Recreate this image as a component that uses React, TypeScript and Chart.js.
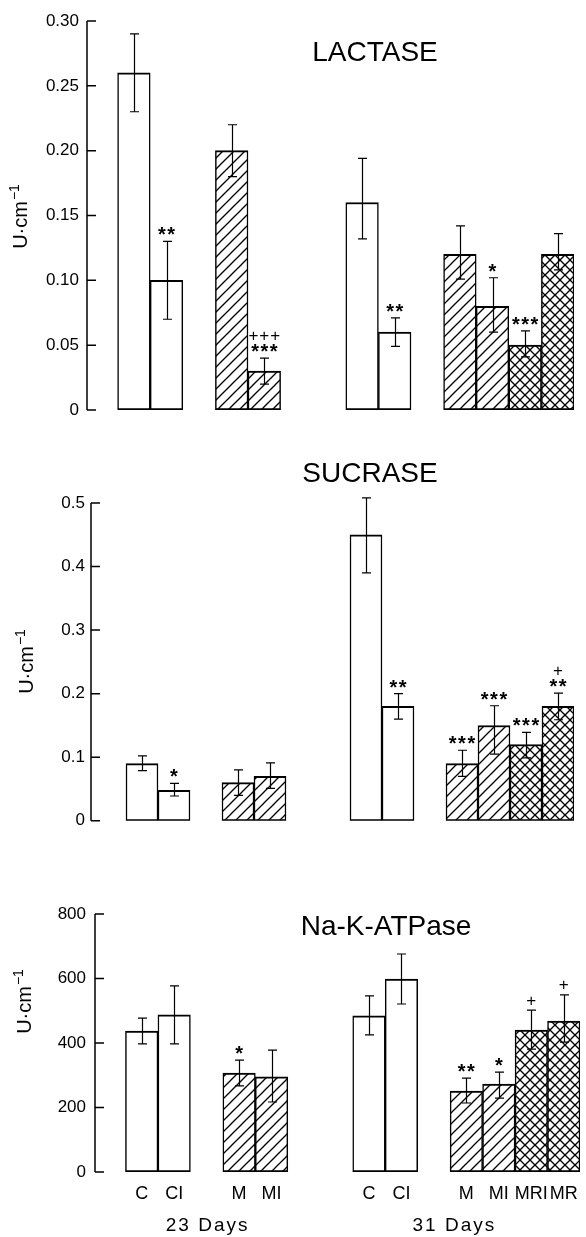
import React, { useEffect, useRef } from "react";
import { Chart, registerables } from "chart.js";
Chart.register(...registerables);

// ---------- data ----------
const categories = ["", "C", "CI", "", "M", "MI", "", "", "C", "CI", "", "M", "MI", "MRI", "MR"];
const fillKinds = ["none", "open", "open", "none", "hatch", "hatch", "none", "none", "open", "open", "none", "hatch", "hatch", "cross", "cross"];
const groupLabels = ["23 Days", "31 Days"];
const groupLabelAt = [3, 10.6];

const lactaseMeans = [null, 0.26, 0.10, null, 0.20, 0.03, null, null, 0.16, 0.06, null, 0.12, 0.08, 0.05, 0.12];
const lactaseUpper = [null, 0.29, 0.13, null, 0.22, 0.04, null, null, 0.194, 0.071, null, 0.142, 0.102, 0.061, 0.136];
const lactaseLower = [null, 0.23, 0.07, null, 0.18, 0.02, null, null, 0.132, 0.049, null, 0.101, 0.06, 0.041, 0.108];
const lactaseMarks = ["", "", "**", "", "", "+++\n***", "", "", "", "**", "", "", "*", "***", ""];
const lactaseTicks = [0, 0.05, 0.1, 0.15, 0.2, 0.25, 0.3];
const lactaseTickLabels = ["0", "0.05", "0.10", "0.15", "0.20", "0.25", "0.30"];

const sucraseMeans = [null, 0.09, 0.048, null, 0.06, 0.07, null, null, 0.45, 0.18, null, 0.09, 0.15, 0.12, 0.18];
const sucraseUpper = [null, 0.102, 0.059, null, 0.08, 0.091, null, null, 0.508, 0.20, null, 0.111, 0.181, 0.139, 0.201];
const sucraseLower = [null, 0.079, 0.039, null, 0.04, 0.051, null, null, 0.39, 0.16, null, 0.07, 0.105, 0.099, 0.159];
const sucraseMarks = ["", "", "*", "", "", "", "", "", "", "**", "", "***", "***", "***", "+\n**"];
const sucraseTicks = [0, 0.1, 0.2, 0.3, 0.4, 0.5];
const sucraseTickLabels = ["0", "0.1", "0.2", "0.3", "0.4", "0.5"];

const atpaseMeans = [null, 437, 487, null, 307, 295, null, null, 484, 598, null, 251, 273, 440, 468];
const atpaseUpper = [null, 477, 577, null, 347, 378, null, null, 546, 676, null, 291, 310, 502, 549];
const atpaseLower = [null, 397, 397, null, 267, 217, null, null, 425, 521, null, 214, 229, 381, 403];
const atpaseMarks = ["", "", "", "", "*", "", "", "", "", "", "", "**", "*", "+", "+"];
const atpaseTicks = [0, 200, 400, 600, 800];
const atpaseTickLabels = ["0", "200", "400", "600", "800"];

const yUnit = "U·cm";
const yUnitSup = "−1";

// ---------- layout ----------
const FONT = '"Liberation Sans", Arial, sans-serif';
const W = 586;

const PANELS = [
  {
    key: "lac", title: "LACTASE", means: lactaseMeans, upper: lactaseUpper, lower: lactaseLower, marks: lactaseMarks,
    ticks: lactaseTicks, tickLabels: lactaseTickLabels, max: 0.3,
    canvasTop: 0, canvasHeight: 430, area: { left: 85, right: 574, top: 21, bottom: 410 },
    axisX: 87, tickPad: 6, titleX: 375, titleY: 51, yTitleX: 21, yTitleY: 217, showCats: false,
  },
  {
    key: "suc", title: "SUCRASE", means: sucraseMeans, upper: sucraseUpper, lower: sucraseLower, marks: sucraseMarks,
    ticks: sucraseTicks, tickLabels: sucraseTickLabels, max: 0.5,
    canvasTop: 440, canvasHeight: 400, area: { left: 94, right: 574, top: 503, bottom: 826 },
    axisX: 91, tickPad: 9, titleX: 370, titleY: 472, yTitleX: 27, yTitleY: 662, showCats: false,
  },
  {
    key: "atp", title: "Na-K-ATPase", means: atpaseMeans, upper: atpaseUpper, lower: atpaseLower, marks: atpaseMarks,
    ticks: atpaseTicks, tickLabels: atpaseTickLabels, max: 800,
    canvasTop: 860, canvasHeight: 377, area: { left: 93, right: 580, top: 914, bottom: 1172 },
    axisX: 95, tickPad: 7, titleX: 386, titleY: 925, yTitleX: 25, yTitleY: 1002, showCats: true,
    catY: 1192, groupY: 1226,
  },
];

function makePattern(ctx: CanvasRenderingContext2D, kind: string) {
  const size = kind === "hatch" ? 11 : 10;
  const t = document.createElement("canvas");
  t.width = size; t.height = size;
  const c = t.getContext("2d")!;
  c.fillStyle = "#fff";
  c.fillRect(0, 0, size, size);
  c.strokeStyle = "#000";
  c.lineWidth = 1.3;
  const seg = (x1: number, y1: number, x2: number, y2: number) => {
    c.beginPath(); c.moveTo(x1, y1); c.lineTo(x2, y2); c.stroke();
  };
  seg(-1, size + 1, size + 1, -1);
  seg(-1, 1, 1, -1);
  seg(size - 1, size + 1, size + 1, size - 1);
  if (kind === "cross") {
    seg(-1, -1, size + 1, size + 1);
    seg(size - 1, -1, size + 1, 1);
    seg(-1, size - 1, 1, size + 1);
  }
  return ctx.createPattern(t, "repeat")!;
}

function drawCentered(ctx: CanvasRenderingContext2D, text: string, x: number, cy: number) {
  const m = ctx.measureText(text);
  const ls = parseFloat(((ctx as any).letterSpacing || "0px")) || 0;
  ctx.textAlign = "center";
  ctx.textBaseline = "alphabetic";
  ctx.fillText(text, x + ls / 2, cy + (m.actualBoundingBoxAscent - m.actualBoundingBoxDescent) / 2);
}

function PanelChart({ p }: { p: any }) {
  const ref = useRef<HTMLCanvasElement | null>(null);
  useEffect(() => {
    const canvas = ref.current!;
    const ctx = canvas.getContext("2d")!;
    const hatch = makePattern(ctx, "hatch");
    const cross = makePattern(ctx, "cross");
    const off = p.canvasTop;
    const fills = fillKinds.map((k) => (k === "hatch" ? hatch : k === "cross" ? cross : "#ffffff"));

    const deco = {
      id: "deco",
      afterDatasetsDraw(chart: any) {
        const c = chart.ctx as CanvasRenderingContext2D;
        const xs = chart.scales.x;
        const ys = chart.scales.y;
        c.save();
        c.strokeStyle = "#000";
        c.lineWidth = 1.2;
        p.means.forEach((m: number | null, i: number) => {
          if (m == null) return;
          const px = Math.round(xs.getPixelForValue(i)) + 0.5;
          const yu = ys.getPixelForValue(p.upper[i]);
          const yl = ys.getPixelForValue(p.lower[i]);
          c.beginPath();
          c.moveTo(px, yu); c.lineTo(px, yl);
          c.moveTo(px - 4.5, yu); c.lineTo(px + 4.5, yu);
          c.moveTo(px - 4.5, yl); c.lineTo(px + 4.5, yl);
          c.stroke();
        });
        c.fillStyle = "#000";
        p.marks.forEach((mk: string, i: number) => {
          if (!mk) return;
          const px = xs.getPixelForValue(i);
          const yu = ys.getPixelForValue(p.upper[i]);
          const lines = mk.split("\n").reverse();
          lines.forEach((ln: string, k: number) => {
            const cy = yu - 10 - k * 13;
            if (ln.includes("*")) {
              c.font = `bold 20px ${FONT}`;
              (c as any).letterSpacing = "1.5px";
            } else {
              c.font = `17px ${FONT}`;
              (c as any).letterSpacing = "1px";
            }
            drawCentered(c, ln, px, cy);
          });
        });
        (c as any).letterSpacing = "0px";
        c.restore();
      },
      afterDraw(chart: any) {
        const c = chart.ctx as CanvasRenderingContext2D;
        const xs = chart.scales.x;
        const ys = chart.scales.y;
        c.save();
        c.strokeStyle = "#000";
        c.fillStyle = "#000";
        c.lineWidth = 1.5;
        const ax = p.axisX;
        c.beginPath();
        c.moveTo(ax, ys.getPixelForValue(p.max));
        c.lineTo(ax, ys.getPixelForValue(0));
        p.ticks.forEach((t: number) => {
          const ty = ys.getPixelForValue(t);
          c.moveTo(ax, ty); c.lineTo(ax + 9, ty);
        });
        c.stroke();
        c.font = `28px ${FONT}`;
        drawCentered(c, p.title, p.titleX, p.titleY - off);
        c.save();
        c.translate(p.yTitleX, p.yTitleY - off);
        c.rotate(-Math.PI / 2);
        c.font = `20px ${FONT}`;
        const w1 = c.measureText(yUnit).width;
        c.font = `14px ${FONT}`;
        const w2 = c.measureText(yUnitSup).width;
        const start = -(w1 + w2) / 2;
        c.textAlign = "left";
        c.textBaseline = "middle";
        c.font = `20px ${FONT}`;
        c.fillText(yUnit, start, 0);
        c.font = `14px ${FONT}`;
        c.fillText(yUnitSup, start + w1 + 1, -6);
        c.restore();
        if (p.showCats) {
          c.font = `18px ${FONT}`;
          categories.forEach((lab, i) => {
            if (!lab) return;
            drawCentered(c, lab, xs.getPixelForValue(i), p.catY - off);
          });
          c.font = `19px ${FONT}`;
          (c as any).letterSpacing = "2px";
          groupLabels.forEach((g, gi) => {
            drawCentered(c, g, xs.getPixelForValue(groupLabelAt[gi]), p.groupY - off);
          });
          (c as any).letterSpacing = "0px";
        }
        c.restore();
      },
    };

    const chart = new Chart(canvas, {
      type: "bar",
      data: {
        labels: categories,
        datasets: [
          {
            data: p.means,
            backgroundColor: fills,
            borderColor: "#000",
            borderWidth: { top: 2, bottom: 2, left: 1.5, right: 1.5 } as any,
            borderSkipped: false,
            barPercentage: 1,
            categoryPercentage: 1,
          },
        ],
      },
      options: {
        animation: false,
        responsive: false,
        maintainAspectRatio: false,
        events: [],
        layout: {
          padding: {
            left: 0,
            right: W - p.area.right,
            top: p.area.top - off,
            bottom: p.canvasTop + p.canvasHeight - p.area.bottom,
          },
        },
        plugins: { legend: { display: false }, tooltip: { enabled: false }, title: { display: false } },
        scales: {
          x: { type: "category", display: false, offset: true, grid: { display: false } },
          y: {
            type: "linear",
            min: 0,
            max: p.max,
            grid: { display: false, drawTicks: false },
            border: { display: false },
            afterFit: (scale: any) => { scale.width = p.area.left; },
            afterBuildTicks: (scale: any) => { scale.ticks = p.ticks.map((v: number) => ({ value: v })); },
            ticks: {
              padding: p.tickPad,
              color: "#000",
              font: { family: FONT, size: 17 },
              callback: (_v: any, i: number) => p.tickLabels[i],
            },
          },
        },
      } as any,
      plugins: [deco],
    });
    return () => chart.destroy();
  }, [p]);
  return (
    <canvas
      ref={ref}
      width={W}
      height={p.canvasHeight}
      style={{ position: "absolute", left: 0, top: p.canvasTop, display: "block" }}
    />
  );
}

export default function App() {
  useEffect(() => {
    document.body.style.margin = "0";
    document.body.style.overflow = "hidden";
    document.body.style.background = "#fff";
  }, []);
  return (
    <div style={{ position: "relative", width: W, height: 1237, background: "#fff", overflow: "hidden" }}>
      {PANELS.map((p) => (
        <PanelChart key={p.key} p={p} />
      ))}
    </div>
  );
}
